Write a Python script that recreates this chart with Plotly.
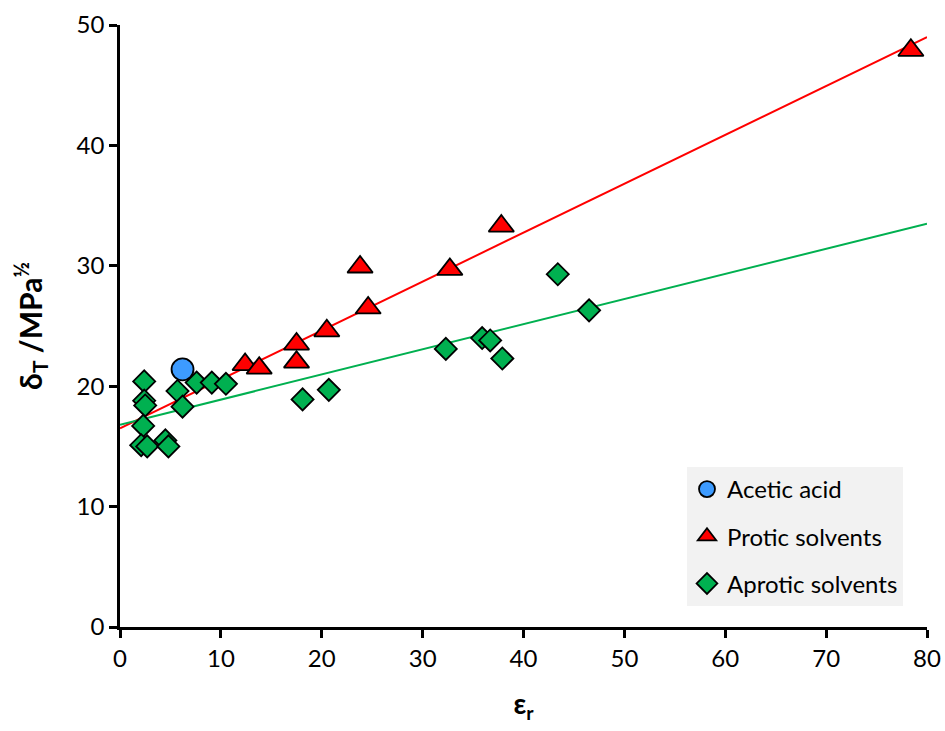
import plotly.graph_objects as go

# Acetic acid
acetic_x = [6.2]
acetic_y = [21.4]

# Protic solvents (dielectric constant, total solubility parameter)
protic_x = [12.4, 13.8, 17.5, 17.5, 20.5, 24.6, 23.8, 32.7, 37.8, 78.4]
protic_y = [21.8, 21.5, 23.5, 22.0, 24.6, 26.5, 29.9, 29.7, 33.3, 47.9]

# Aprotic solvents
aprotic_x = [2.4, 2.4, 2.5, 2.3, 2.1, 2.7, 4.5, 4.8, 5.7, 6.2, 7.6, 9.1, 10.5,
             18.1, 20.7, 32.3, 35.9, 36.7, 37.9, 43.4, 46.5]
aprotic_y = [20.4, 18.8, 18.4, 16.7, 15.1, 15.0, 15.5, 15.0, 19.6, 18.3, 20.3, 20.3, 20.2,
             18.9, 19.7, 23.1, 24.0, 23.8, 22.3, 29.3, 26.3]

# Linear trend lines (endpoints)
trend_x = [0, 80]
protic_trend_y = [16.5, 49.0]
aprotic_trend_y = [16.8, 33.5]

x_ticks = [0, 10, 20, 30, 40, 50, 60, 70, 80]
y_ticks = [0, 10, 20, 30, 40, 50]

RED = "#ff0000"
GREEN = "#00b050"
BLUE = "#3d9bff"
FONT = "Lato, Open Sans, sans-serif"

fig = go.Figure()

fig.add_trace(go.Scatter(x=trend_x, y=protic_trend_y, mode="lines",
                         line=dict(color=RED, width=2), showlegend=False, hoverinfo="skip"))
fig.add_trace(go.Scatter(x=trend_x, y=aprotic_trend_y, mode="lines",
                         line=dict(color=GREEN, width=2), showlegend=False, hoverinfo="skip"))

fig.add_trace(go.Scatter(x=aprotic_x, y=aprotic_y, mode="markers", name="Aprotic solvents",
                         legendgroup="c", legendrank=3,
                         marker=dict(symbol="diamond", size=17, color=GREEN,
                                     line=dict(color="black", width=1.8))))
fig.add_trace(go.Scatter(x=protic_x, y=protic_y, mode="markers", name="Protic solvents",
                         legendgroup="b", legendrank=2,
                         marker=dict(symbol="triangle-up", size=22, color=RED,
                                     line=dict(color="black", width=1.8))))
fig.add_trace(go.Scatter(x=acetic_x, y=acetic_y, mode="markers", name="Acetic acid",
                         legendgroup="a", legendrank=1,
                         marker=dict(symbol="circle", size=22, color=BLUE,
                                     line=dict(color="black", width=1.8))))

fig.update_layout(
    width=945, height=731,
    margin=dict(l=120, r=18, t=25, b=104),
    paper_bgcolor="white", plot_bgcolor="white",
    font=dict(family=FONT, size=24, color="black"),
    legend=dict(x=0.7026, y=0.2658, xanchor="left", yanchor="top",
                bgcolor="#f2f2f2", font=dict(size=24, family=FONT),
                traceorder="grouped", tracegroupgap=13,
                itemwidth=30),
    xaxis=dict(range=[0, 80], tickvals=x_ticks, showgrid=False, zeroline=False,
               automargin=False,
               showline=True, linecolor="black", linewidth=2.5,
               ticks="outside", ticklen=8, tickwidth=2.5, tickcolor="black",
               tickfont=dict(size=24),
               title=dict(text="<b>ε<sub>r</sub></b>", font=dict(size=28), standoff=24)),
    yaxis=dict(range=[0, 50], tickvals=y_ticks, showgrid=False, zeroline=False,
               automargin=False,
               showline=True, linecolor="black", linewidth=2.5,
               ticks="outside", ticklen=8, tickwidth=2.5, tickcolor="black",
               tickfont=dict(size=24),
               title=dict(text="<b>δ<sub>T</sub> /MPa<sup>½</sup></b>", font=dict(size=30), standoff=26)),
)

fig.write_html("out.html")
